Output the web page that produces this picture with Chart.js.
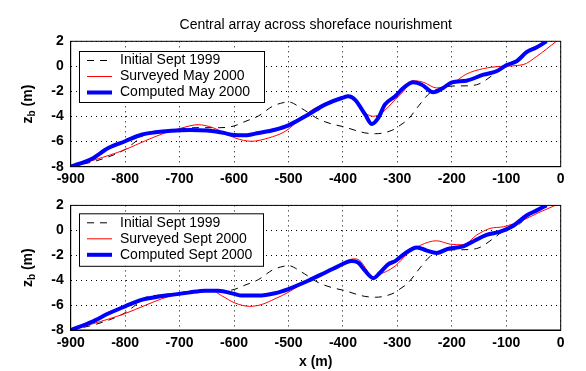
<!DOCTYPE html>
<html>
<head>
<meta charset="utf-8">
<script src="https://cdn.jsdelivr.net/npm/chart.js@4.4.1/dist/chart.umd.min.js"></script>
<style>
  body { margin: 0; background: #fff; }
  #wrap { position: relative; width: 586px; height: 371px; }
  canvas { position: absolute; left: 0; }
</style>
</head>
<body>
<div id="wrap">
  <canvas id="topChart" width="586" height="190" style="top:0"></canvas>
  <canvas id="bottomChart" width="586" height="181" style="top:190px"></canvas>
</div>
<script>
// profile data (x in m, bed level z_b in m)
const xInitial = [-900, -852, -800, -785, -760, -736, -700, -675, -626, -600, -580, -555, -530, -515, -500, -476, -445, -420, -400, -360, -340, -310, -295, -280, -260, -240, -225, -200, -172, -150, -125, -105, -74, -59, -38, -25];
const zInitial = [-8, -7.52, -6.62, -6.14, -5.34, -5.2, -5.0, -4.89, -4.89, -4.75, -4.4, -3.95, -3.2, -2.95, -2.84, -3.35, -4.2, -4.6, -4.8, -5.3, -5.37, -5.1, -4.7, -4.2, -3.1, -2.1, -1.8, -1.57, -1.55, -1.4, -0.7, -0.05, 0.56, 1.31, 1.65, 1.97];

const xSurveyedMay = [-900, -855, -800, -763, -727, -696, -666, -641, -617, -598, -568, -537, -506, -476, -451, -421, -396, -384, -359, -344, -329, -304, -289, -271, -252, -228, -203, -173, -142, -111, -69, -44, -8];
const zSurveyedMay = [-8, -7.44, -6.64, -5.93, -5.31, -4.91, -4.65, -4.86, -5.31, -5.71, -5.97, -5.71, -5.18, -4.11, -3.32, -2.86, -2.39, -2.47, -3.72, -3.98, -3.72, -2.65, -1.99, -1.14, -1.27, -1.72, -1.46, -0.61, -0.18, 0.0, 0.14, 0.8, 2.0];

const xComputedMay = [-900, -861, -831, -800, -770, -745, -715, -680, -650, -620, -600, -580, -555, -525, -500, -464, -433, -402, -390, -378, -359, -347, -335, -323, -304, -289, -271, -255, -234, -216, -200, -173, -142, -118, -100, -81, -62, -44, -26];
const zComputedMay = [-8, -7.36, -6.51, -5.97, -5.45, -5.26, -5.13, -5.07, -5.12, -5.3, -5.48, -5.5, -5.31, -5.05, -4.7, -3.85, -3.05, -2.52, -2.39, -2.65, -3.85, -4.6, -4.11, -3.05, -2.39, -1.72, -1.27, -1.46, -2.07, -1.72, -1.27, -1.14, -0.66, -0.39, 0.09, 0.41, 1.15, 1.52, 2.0];

const xSurveyedSep = [-900, -861, -800, -763, -733, -702, -666, -641, -623, -598, -571, -549, -525, -500, -464, -433, -402, -381, -369, -359, -347, -335, -304, -283, -258, -228, -203, -179, -154, -130, -105, -69, -38, -10];
const zSurveyedSep = [-8, -7.52, -6.68, -6.02, -5.5, -5.1, -4.9, -4.84, -5.24, -5.84, -6.1, -5.95, -5.5, -4.97, -4.0, -3.32, -2.69, -2.29, -2.42, -3.0, -3.74, -3.58, -2.87, -1.95, -1.21, -0.84, -1.11, -1.16, -0.37, 0.15, 0.29, 0.82, 1.47, 2.0];

const xComputedSep = [-900, -861, -831, -800, -770, -745, -715, -684, -653, -629, -600, -586, -555, -525, -500, -464, -433, -408, -384, -372, -359, -344, -332, -317, -304, -289, -264, -246, -228, -206, -179, -161, -136, -111, -87, -62, -44, -26];
const zComputedSep = [-8, -7.34, -6.68, -6.1, -5.58, -5.37, -5.18, -5.0, -4.84, -4.84, -5.1, -5.24, -5.24, -5.05, -4.71, -4.05, -3.4, -2.87, -2.47, -2.6, -3.26, -3.84, -3.4, -2.73, -2.47, -1.95, -1.37, -1.63, -1.82, -1.47, -1.29, -0.9, -0.37, -0.11, 0.37, 1.21, 1.6, 2.0];

const namesMay = ['Initial Sept 1999', 'Surveyed May 2000', 'Computed May 2000'];
const namesSep = ['Initial Sept 1999', 'Surveyed Sept 2000', 'Computed Sept 2000'];

const FONT = "'Liberation Sans', Arial, Helvetica, sans-serif";
Chart.defaults.font.family = FONT;
Chart.defaults.color = '#000';

function points(xs, zs) {
  return xs.map((x, i) => ({ x: x, y: zs[i] }));
}

// box, title, y label with subscript, legend inside the axes
const framePlugin = {
  id: 'frame',
  afterDraw(chart, args, opts) {
    const ctx = chart.ctx;
    const a = chart.chartArea;
    ctx.save();
    ctx.setLineDash([]);
    ctx.strokeStyle = '#000';
    ctx.lineWidth = 1;
    ctx.strokeRect(a.left, a.top, a.right - a.left, a.bottom - a.top);

    ctx.fillStyle = '#000';
    ctx.textBaseline = 'middle';
    if (opts.title) {
      ctx.font = '14px ' + FONT;
      ctx.textAlign = 'center';
      ctx.fillText(opts.title, (a.left + a.right) / 2, opts.titleY);
    }
    if (opts.xLabel) {
      ctx.font = 'bold 14px ' + FONT;
      ctx.textAlign = 'center';
      ctx.fillText(opts.xLabel, (a.left + a.right) / 2, opts.xLabelY);
    }

    // z_b (m), rotated
    ctx.save();
    ctx.translate(28, (a.top + a.bottom) / 2);
    ctx.rotate(-Math.PI / 2);
    ctx.textAlign = 'left';
    ctx.font = 'bold 14px ' + FONT;
    const wz = ctx.measureText('z').width;
    const wm = ctx.measureText(' (m)').width;
    ctx.font = 'bold 10px ' + FONT;
    const wb = ctx.measureText('b').width;
    let x0 = -(wz + wb + wm) / 2;
    ctx.font = 'bold 14px ' + FONT;
    ctx.fillText('z', x0, 0);
    ctx.font = 'bold 10px ' + FONT;
    ctx.fillText('b', x0 + wz, 4);
    ctx.font = 'bold 14px ' + FONT;
    ctx.fillText(' (m)', x0 + wz + wb, 0);
    ctx.restore();

    // legend
    const b = opts.box;
    ctx.fillStyle = '#fff';
    ctx.fillRect(b.x, b.y, b.w, b.h);
    ctx.strokeStyle = '#000';
    ctx.lineWidth = 1;
    ctx.strokeRect(b.x + 0.5, b.y + 0.5, b.w, b.h);
    chart.data.datasets.forEach((ds, i) => {
      const y = b.y + 9.5 + i * 16;
      ctx.strokeStyle = ds.borderColor;
      ctx.lineWidth = ds.borderWidth;
      ctx.setLineDash(ds.borderDash || []);
      ctx.beginPath();
      ctx.moveTo(b.x + 8, y);
      ctx.lineTo(b.x + 33, y);
      ctx.stroke();
      ctx.setLineDash([]);
      ctx.fillStyle = '#000';
      ctx.font = '14px ' + FONT;
      ctx.textAlign = 'left';
      ctx.fillText(ds.label, b.x + 41, y);
    });
    ctx.restore();
  }
};

function makeChart(id, names, xs, frame, padTop, xHeight) {
  return new Chart(document.getElementById(id), {
    type: 'line',
    data: {
      datasets: [
        { label: names[0], data: points(xInitial, zInitial), borderColor: '#000000', borderWidth: 1, borderDash: [7, 6], order: 3 },
        { label: names[1], data: points(xs[0], xs[1]), borderColor: '#ff0000', borderWidth: 1, order: 2 },
        { label: names[2], data: points(xs[2], xs[3]), borderColor: '#0000ff', borderWidth: 4, order: 1 }
      ]
    },
    options: {
      responsive: false,
      animation: false,
      elements: {
        point: { radius: 0 },
        line: { cubicInterpolationMode: 'monotone', fill: false, borderJoinStyle: 'round' }
      },
      layout: { padding: { top: padTop, right: 25.3, left: 0, bottom: 0 } },
      scales: {
        x: {
          type: 'linear', min: -900, max: 0,
          ticks: { stepSize: 100, padding: 4.5, autoSkip: false, maxRotation: 0, font: { size: 14, weight: 'bold' } },
          grid: { color: '#000', lineWidth: 1, drawTicks: false },
          border: { dash: [1, 4], color: '#000' },
          afterFit(s) { s.height = xHeight; }
        },
        y: {
          min: -8, max: 2,
          ticks: { stepSize: 2, padding: 7, font: { size: 14, weight: 'bold' } },
          grid: { color: '#000', lineWidth: 1, drawTicks: false },
          border: { dash: [1, 4], color: '#000' },
          afterFit(s) { s.width = 70.7; }
        }
      },
      plugins: {
        legend: { display: false },
        tooltip: { enabled: false },
        frame: frame
      }
    },
    plugins: [framePlugin]
  });
}

makeChart('topChart', namesMay, [xSurveyedMay, zSurveyedMay, xComputedMay, zComputedMay],
  { title: 'Central array across shoreface nourishment', titleY: 25, box: { x: 79, y: 51, w: 185, h: 51 } },
  41.3, 190 - 166.7);

makeChart('bottomChart', namesSep, [xSurveyedSep, zSurveyedSep, xComputedSep, zComputedSep],
  { xLabel: 'x (m)', xLabelY: 172, box: { x: 79, y: 23.3, w: 184, h: 52.5 } },
  13.3, 181 - 140);
</script>
</body>
</html>
